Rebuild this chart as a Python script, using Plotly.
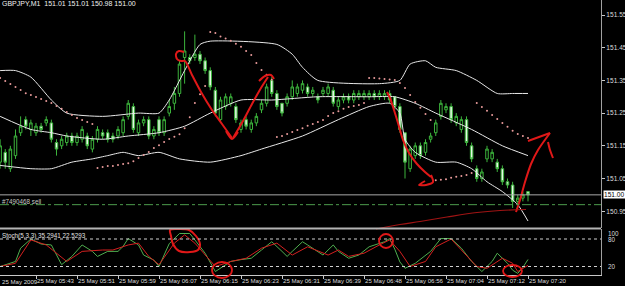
import plotly.graph_objects as go

# ---------------- data ----------------
open_ = [151.10,151.13,151.08,151.12,151.19,151.23,151.20,151.19,151.21,151.22,
         151.22,151.16,151.15,151.16,151.18,151.16,151.17,151.18,151.14,151.17,
         151.19,151.19,151.18,151.18,151.19,151.24,151.27,151.19,151.22,151.23,
         151.18,151.23,151.19,151.25,151.28,151.31,151.42,151.42,151.42,151.43,
         151.41,151.38,151.32,151.23,151.27,151.28,151.27,151.20,151.23,151.20,
         151.22,151.26,151.28,151.35,151.31,151.28,151.28,151.30,151.31,151.32,
         151.33,151.31,151.30,151.31,151.31,151.32,151.27,151.29,151.30,151.29,
         151.30,151.30,151.30,151.31,151.30,151.30,151.31,151.30,151.27,151.19,
         151.08,151.12,151.15,151.13,151.17,151.19,151.24,151.26,151.27,151.22,
         151.20,151.23,151.15,151.08,151.05,151.11,151.11,151.10,151.08,151.04,
         151.03,150.98,150.99,151.01]
high = [151.17,151.14,151.15,151.20,151.24,151.24,151.23,151.22,151.22,151.24,
        151.23,151.17,151.18,151.19,151.19,151.19,151.21,151.19,151.18,151.21,
        151.20,151.20,151.19,151.21,151.24,151.29,151.28,151.23,151.24,151.24,
        151.21,151.24,151.24,151.29,151.33,151.41,151.50,151.43,151.49,151.44,
        151.42,151.39,151.33,151.30,151.31,151.31,151.28,151.23,151.24,151.23,
        151.25,151.29,151.34,151.36,151.32,151.28,151.31,151.35,151.34,151.35,
        151.34,151.33,151.31,151.33,151.34,151.33,151.30,151.31,151.31,151.32,
        151.32,151.32,151.32,151.32,151.32,151.32,151.32,151.30,151.28,151.19,
        151.15,151.16,151.16,151.17,151.19,151.23,151.29,151.28,151.28,151.25,
        151.24,151.24,151.16,151.09,151.08,151.15,151.14,151.11,151.09,151.05,
        151.04,151.00,151.01,151.01]
low = [151.08,151.08,151.07,151.11,151.18,151.20,151.18,151.18,151.19,151.21,
       151.16,151.12,151.14,151.15,151.15,151.15,151.16,151.14,151.13,151.16,
       151.17,151.16,151.16,151.17,151.18,151.23,151.19,151.18,151.21,151.17,
       151.17,151.18,151.18,151.24,151.26,151.30,151.34,151.40,151.41,151.40,
       151.37,151.32,151.24,151.22,151.26,151.27,151.22,151.19,151.20,151.19,
       151.21,151.25,151.27,151.30,151.26,151.24,151.27,151.29,151.30,151.31,
       151.30,151.30,151.28,151.30,151.30,151.27,151.26,151.28,151.28,151.28,
       151.29,151.29,151.29,151.29,151.29,151.29,151.28,151.26,151.19,151.05,
       151.07,151.11,151.11,151.12,151.16,151.18,151.23,151.25,151.22,151.21,
       151.19,151.15,151.10,151.04,151.04,151.10,151.10,151.07,151.03,151.02,
       150.96,150.97,150.98,150.98]
close = [151.15,151.10,151.14,151.18,151.21,151.21,151.22,151.21,151.20,151.23,
         151.17,151.14,151.17,151.18,151.16,151.18,151.20,151.15,151.17,151.20,
         151.18,151.17,151.17,151.20,151.23,151.28,151.20,151.22,151.23,151.18,
         151.20,151.19,151.23,151.27,151.31,151.40,151.44,151.41,151.43,151.41,
         151.38,151.33,151.25,151.29,151.30,151.30,151.23,151.22,151.21,151.22,
         151.24,151.28,151.33,151.31,151.27,151.25,151.30,151.33,151.33,151.34,
         151.31,151.32,151.29,151.32,151.33,151.28,151.29,151.30,151.29,151.31,
         151.31,151.31,151.31,151.30,151.31,151.31,151.29,151.27,151.20,151.10,
         151.14,151.15,151.12,151.16,151.18,151.22,151.28,151.27,151.23,151.24,
         151.23,151.16,151.11,151.05,151.07,151.14,151.13,151.08,151.04,151.03,
         150.98,150.99,151.00,151.00]
bars = list(range(len(close)))

# Bollinger bands, sampled at bars
bb_up_bar = [0,3,6,10,13,20,27,31,33,36,39,41,54,57,59,62,74,78,80,83,85,89,93,97,100,103]
bb_up = [151.38,151.38,151.36,151.29,151.25,151.24,151.25,151.25,151.29,151.38,151.46,151.47,
         151.46,151.43,151.39,151.35,151.34,151.35,151.40,151.41,151.39,151.38,151.35,151.31,151.31,151.31]
bb_mid_bar = [0,6,10,13,20,25,31,36,41,47,53,62,72,77,81,85,92,98,103]
bb_mid = [151.24,151.20,151.19,151.18,151.17,151.18,151.19,151.21,151.25,151.29,151.29,151.30,
          151.30,151.30,151.28,151.25,151.20,151.15,151.12]
bb_low_bar = [0,6,10,14,18,21,24,27,31,35,41,47,51,59,66,72,76,78,79,81,85,89,92,95,98,101,103]
bb_low = [151.09,151.08,151.08,151.10,151.11,151.12,151.13,151.12,151.13,151.11,151.10,151.12,151.14,
          151.18,151.23,151.27,151.28,151.25,151.17,151.13,151.10,151.10,151.08,151.04,151.01,150.97,150.92]

# Parabolic SAR, one dot per bar
sar = [151.357,151.348,151.339,151.330,151.321,151.311,151.305,151.299,151.293,151.287,
       151.281,151.272,151.263,151.253,151.244,151.235,151.229,151.223,151.217,
       151.082,151.085,151.088,151.088,151.091,151.094,151.097,151.103,151.113,151.122,151.131,
       151.143,151.152,151.162,151.171,151.178,151.185,151.204,151.237,151.281,151.308,151.333,
       151.498,151.495,151.484,151.478,151.471,151.462,151.453,151.440,151.428,151.403,151.382,
       151.367,151.352,
       151.177,151.180,151.186,151.192,151.198,151.204,151.211,151.217,151.223,151.229,
       151.241,151.250,151.256,151.263,151.269,151.272,151.275,151.281,
       151.357,151.357,151.356,151.354,151.353,151.351,151.342,151.327,151.305,151.284,
       151.266,151.247,151.229,
       151.045,151.046,151.048,151.052,151.055,151.058,151.061,151.067,
       151.281,151.269,151.257,151.244,151.232,151.220,151.208,151.196,151.186,151.180,151.174]

# Stochastic (5,3,3) sampled at bars
stk_bar = [0,3,4,6,8,10,12,14,16,18,19,21,23,24,25,27,28,30,31,33,35,37,38,40,42,43,45,47,49,51,
           53,55,56,57,59,60,63,65,66,68,70,72,75,76,77,78,79,81,84,86,88,90,92,94,96,97,99,100,101,102,103]
stk_k = [20,31,60,80,69,67,24,42,67,53,42,53,53,64,81,67,45,34,20,70,92,92,78,49,9,16,31,35,38,56,
         74,53,42,53,74,67,45,67,53,38,45,63,74,81,58,30,16,27,53,81,81,60,31,9,31,49,27,12,5,18,35.29]
std_bar = [0,3,6,9,13,16,20,22,25,27,29,31,34,36,38,40,42,45,48,51,54,57,60,64,66,68,71,74,76,78,
           80,83,85,88,90,93,95,98,100,101,103]
std_d = [20,27,78,67,31,53,56,56,67,71,42,24,71,89,71,45,20,31,38,60,71,45,63,45,56,42,49,67,78,53,
         20,31,63,80,56,20,16,38,27,9,22.53]

price_ticks = [151.55, 151.45, 151.35, 151.25, 151.15, 151.05, 150.95]
time_tick_bars = [7, 15, 23, 31, 39, 47, 55, 63, 71, 79, 87, 95, 103]
time_tick_text = ["25 May 05:43", "25 May 05:51", "25 May 05:59", "25 May 06:07", "25 May 06:15",
                  "25 May 06:23", "25 May 06:31", "25 May 06:39", "25 May 06:48", "25 May 06:56",
                  "25 May 07:04", "25 May 07:12", "25 May 07:20"]
first_date_text = "25 May 2009"
stoch_levels = [100, 80, 20, 0]
bid_price = 151.00
order_price = 150.97
title_text = "GBPJPY,M1  151.01 151.01 150.98 151.00"
order_text = "#7490468 sell"
stoch_text = "Stoch(5,3,3) 35.2941 22.5293"

# hand-drawn red marks (screen pixels, as drawn on the screenshot)
strokes = [
    [(184,52),(179,51),(176,54),(177,59),(181,61),(185,61),(192,75),(201,92),(212,110),(222,124),(232,138)],
    [(226,131),(232,139),(238,132)],
    [(233,138),(243,121),(252,104),(261,88),(268,77)],
    [(259,81),(265,76),(271,75),(274,79)],
    [(387,92),(390,98),(394,110),(398,123),(403,140),(409,153),(417,164),(425,172),(431,177)],
    [(431,175),(433,182),(426,185),(419,185),(425,181)],
    [(516,212),(520,200),(525,182),(531,164),(538,150),(550,133)],
    [(528,141),(539,137),(550,133)],
    [(548,142),(550,150),(553,158)],
    [(176,229),(170,230),(171,236),(173,244),(179,251),(190,252),(198,250),(200,244),(196,236),(189,230),(176,229)],
]
ellipses = [(212,262,232,278),(379,234,393,248),(503,265,522,277)]
dark_curve = [(376,229),(400,224.5),(420,221.5),(447,217),(477,212.5),(500,210.5),(526,209.5)]

# ---------------- geometry ----------------
W, H = 625, 286
CHART_R = 601
MAIN_B = 228
ST_T, ST_B = 229, 275
FONT = "Liberation Sans"
TXT = "#dcdcdc"
GREEN = "#3cb43c"


def px(x):
    return x / W


def py(y):
    return 1 - y / H


fig = go.Figure()
fig.add_trace(go.Candlestick(
    x=bars, open=open_, high=high, low=low, close=close,
    increasing=dict(line=dict(color=GREEN, width=1), fillcolor="#000000"),
    decreasing=dict(line=dict(color=GREEN, width=1), fillcolor="#e4f7e4"),
    whiskerwidth=0, xaxis="x", yaxis="y", showlegend=False))
for bx, by in [(bb_up_bar, bb_up), (bb_mid_bar, bb_mid), (bb_low_bar, bb_low)]:
    fig.add_trace(go.Scatter(x=bx, y=by, mode="lines", line=dict(color="#e8e8e8", width=1, shape="spline", smoothing=0.6),
                             xaxis="x", yaxis="y", showlegend=False))
fig.add_trace(go.Scatter(x=bars, y=sar, mode="markers", marker=dict(color="#e89a9a", size=2.0),
                         xaxis="x", yaxis="y", showlegend=False))
fig.add_trace(go.Scatter(x=stk_bar, y=stk_k, mode="lines", line=dict(color="#4fae4f", width=1),
                         xaxis="x", yaxis="y2", showlegend=False))
fig.add_trace(go.Scatter(x=std_bar, y=std_d, mode="lines", line=dict(color="#d42020", width=1),
                         xaxis="x", yaxis="y2", showlegend=False))

# overlay in screen pixels for hand drawn marks
for s in strokes:
    fig.add_trace(go.Scatter(x=[p[0] for p in s], y=[p[1] for p in s], mode="lines",
                             line=dict(color="#e01818", width=2, shape="spline", smoothing=0.8),
                             xaxis="x3", yaxis="y3", showlegend=False))
fig.add_trace(go.Scatter(x=[p[0] for p in dark_curve], y=[p[1] for p in dark_curve], mode="lines",
                         line=dict(color="#a01414", width=1.2, shape="spline"),
                         xaxis="x3", yaxis="y3", showlegend=False))

xr0 = -0.125 / 5.125
xr1 = (CHART_R - 0.125) / 5.125
p_top = 151.55 + 15 / 327.0
p_bot = 151.55 - (MAIN_B - 15) / 327.0
st_lo = 20 - (ST_B - 266.5) * (60 / 27.5)
st_hi = 80 + (239 - ST_T) * (60 / 27.5)

fig.update_layout(
    width=W, height=H, margin=dict(l=0, r=0, t=0, b=0, autoexpand=False),
    paper_bgcolor="#000000", plot_bgcolor="rgba(0,0,0,0)",
    font=dict(family=FONT, size=7, color=TXT),
    xaxis=dict(domain=[0, CHART_R / W], range=[xr0, xr1], anchor="y2", automargin=False,
               rangeslider=dict(visible=False), showgrid=False, zeroline=False,
               showline=True, linecolor="#c8c8c8", linewidth=1,
               tickmode="array", tickvals=time_tick_bars, ticktext=time_tick_text, tickangle=0,
               ticks="outside", ticklen=3, tickcolor="#c8c8c8",
               ticklabelposition="outside right", tickfont=dict(size=6.1, color=TXT, family=FONT)),
    yaxis=dict(domain=[1 - MAIN_B / H, 1], range=[p_bot, p_top], anchor="x", side="right", automargin=False,
               showgrid=False, zeroline=False, showline=True, linecolor="#a0a0a0",
               tickmode="array", tickvals=price_ticks, ticktext=[f"{v:.2f}" for v in price_ticks],
               ticks="outside", ticklen=3, tickcolor="#c8c8c8",
               tickfont=dict(size=6.6, color=TXT, family=FONT)),
    yaxis2=dict(domain=[1 - ST_B / H, 1 - ST_T / H], range=[st_lo, st_hi], anchor="x", side="right",
                automargin=False, showgrid=False, zeroline=False, showline=True, linecolor="#a0a0a0",
                showticklabels=False, ticks=""),
    xaxis3=dict(domain=[0, 1], range=[0, W], visible=False, anchor="y3", automargin=False),
    yaxis3=dict(domain=[0, 1], range=[H, 0], visible=False, anchor="x3", automargin=False),
)

shapes = []
shapes.append(dict(type="line", xref="x3", yref="y3", x0=0, x1=CHART_R, y0=MAIN_B + 0.5, y1=MAIN_B + 0.5,
                   line=dict(color="#b4b4b4", width=2)))
shapes.append(dict(type="line", xref="paper", yref="y", x0=0, x1=CHART_R / W, y0=bid_price, y1=bid_price,
                   line=dict(color="#a8a8a8", width=1)))
shapes.append(dict(type="line", xref="paper", yref="y", x0=0, x1=CHART_R / W, y0=order_price, y1=order_price,
                   line=dict(color="#4c9c4c", width=1, dash="dashdot")))
for lv in (20, 80):
    shapes.append(dict(type="line", xref="paper", yref="y2", x0=0, x1=CHART_R / W, y0=lv, y1=lv,
                       line=dict(color="#d0d0d0", width=1, dash="dot")))
for e in ellipses:
    shapes.append(dict(type="circle", xref="x3", yref="y3", x0=e[0], y0=e[1], x1=e[2], y1=e[3],
                       line=dict(color="#e01818", width=1.8)))
fig.update_layout(shapes=shapes)

ann = []
ann.append(dict(x=px(0), y=py(4), xref="paper", yref="paper", text=title_text, showarrow=False,
                xanchor="left", yanchor="middle", font=dict(size=7, color="#f0f0f0")))
ann.append(dict(x=px(0), y=py(201), xref="paper", yref="paper", text=order_text, showarrow=False,
                xanchor="left", yanchor="middle", font=dict(size=6.3, color="#c8c8c8")))
ann.append(dict(x=px(0), y=py(236), xref="paper", yref="paper", text=stoch_text, showarrow=False,
                xanchor="left", yanchor="middle", font=dict(size=6.3, color="#e0e0e0")))
ann.append(dict(x=px(0), y=py(281), xref="paper", yref="paper", text=first_date_text, showarrow=False,
                xanchor="left", yanchor="middle", font=dict(size=6.1, color=TXT)))
ann.append(dict(x=px(CHART_R + 2), y=bid_price, xref="paper", yref="y", text=f"{bid_price:.2f}", showarrow=False,
                xanchor="left", yanchor="middle", bgcolor="#ffffff", font=dict(size=6.6, color="#000000"),
                borderpad=0))
shift = {100: -4, 80: 0, 20: 0, 0: 4}
for lv in stoch_levels:
    ann.append(dict(x=px(CHART_R + 5), y=lv, xref="paper", yref="y2", text=str(lv), showarrow=False,
                    xanchor="left", yanchor="middle", yshift=shift[lv], font=dict(size=6.3, color=TXT)))
fig.update_layout(annotations=ann)

fig.write_html("out.html")
